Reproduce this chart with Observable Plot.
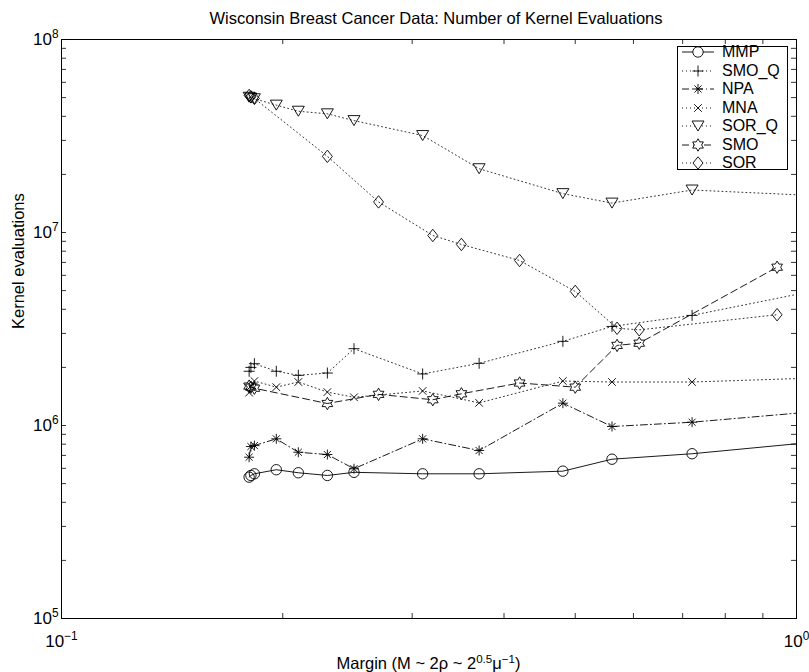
<!DOCTYPE html>
<html>
<head>
<meta charset="utf-8">
<script src="https://cdn.jsdelivr.net/npm/d3@7"></script>
<script src="https://cdn.jsdelivr.net/npm/@observablehq/plot@0.6"></script>
<style>
  body { margin: 0; background: #fff; }
  #wrap { position: relative; width: 809px; height: 672px; overflow: hidden; background: #fff;
          font-family: "Liberation Sans", Arial, Helvetica, sans-serif; color: #000; }
  #title { height: 26px; box-sizing: border-box; padding-top: 9px; line-height: 18px;
           font-size: 16.5px; margin-left: 63px; width: 746px; text-align: center; white-space: nowrap; }
  #xlabel { height: 18px; line-height: 18px; font-size: 16.5px; margin-left: 61px; width: 735px;
            text-align: center; white-space: nowrap; }
  #xlabel sup { font-size: 0.7em; line-height: 0; vertical-align: 0.55em; }
  #legend { position: absolute; left: 677px; top: 46px; width: 111px; height: 124px; box-sizing: border-box;
            border: 1px solid #000; background: #fff; }
  .lrow { position: absolute; left: 0; height: 18px; width: 109px; }
  .lrow svg { position: absolute; left: 1px; top: 0; }
  .lrow span { position: absolute; left: 44px; top: 0; line-height: 18px; font-size: 16px; white-space: nowrap; }
</style>
</head>
<body>
<div id="wrap">
  <div id="title">Wisconsin Breast Cancer Data: Number of Kernel Evaluations</div>
  <div id="chart"></div>
  <div id="xlabel">Margin (M ~ 2ρ ~ 2<sup>0.5</sup>μ<sup>−1</sup>)</div>
  <div id="legend"></div>
</div>
<script>
// ---------------- data ----------------
const seriesNames = ["MMP", "SMO_Q", "NPA", "MNA", "SOR_Q", "SMO", "SOR"];

// margin values shared by MMP, SMO_Q, NPA, MNA, SOR_Q (last one lies beyond the right edge)
const marginA = [0.180, 0.181, 0.183, 0.196, 0.210, 0.230, 0.250, 0.310, 0.370, 0.481, 0.561, 0.721, 1.2];
// margin values shared by SMO and SOR
const marginB = [0.180, 0.181, 0.183, 0.230, 0.270, 0.320, 0.350, 0.420, 0.500, 0.570, 0.611, 0.941];

const mmp   = [5.40e5, 5.51e5, 5.62e5, 5.90e5, 5.69e5, 5.51e5, 5.72e5, 5.62e5, 5.62e5, 5.80e5, 6.69e5, 7.14e5, 8.59e5];
const smoQ  = [1.91e6, 2.00e6, 2.09e6, 1.91e6, 1.82e6, 1.87e6, 2.50e6, 1.85e6, 2.10e6, 2.73e6, 3.26e6, 3.72e6, 5.49e6];
const npa   = [6.85e5, 7.78e5, 7.87e5, 8.53e5, 7.27e5, 7.07e5, 5.97e5, 8.53e5, 7.42e5, 1.305e6, 9.88e5, 1.04e6, 1.23e6];
const mna   = [1.48e6, 1.60e6, 1.70e6, 1.58e6, 1.68e6, 1.49e6, 1.40e6, 1.51e6, 1.31e6, 1.70e6, 1.68e6, 1.68e6, 1.79e6];
const sorQ  = [5.02e7, 4.97e7, 4.93e7, 4.57e7, 4.25e7, 4.12e7, 3.80e7, 3.18e7, 2.14e7, 1.59e7, 1.42e7, 1.66e7, 1.52e7];
const smo   = [1.60e6, 1.58e6, 1.56e6, 1.30e6, 1.45e6, 1.36e6, 1.46e6, 1.66e6, 1.58e6, 2.60e6, 2.67e6, 6.61e6];
const sor   = [5.13e7, 5.05e7, 4.95e7, 2.48e7, 1.44e7, 9.65e6, 8.67e6, 7.16e6, 4.95e6, 3.19e6, 3.13e6, 3.75e6];

// axis ticks
const xMajor = [0.1, 1];
const xMinor = [0.2, 0.3, 0.4, 0.5, 0.6, 0.7, 0.8, 0.9];
const yMajor = [1e5, 1e6, 1e7, 1e8];
const yMinor = [2e5, 3e5, 4e5, 5e5, 6e5, 7e5, 8e5, 9e5,
                2e6, 3e6, 4e6, 5e6, 6e6, 7e6, 8e6, 9e6,
                2e7, 3e7, 4e7, 5e7, 6e7, 7e7, 8e7, 9e7];

// ---------------- marker shapes (MATLAB-like, open) ----------------
const SYM = {
  circle:   {draw(c) { const r = 5.2; c.moveTo(r, 0); c.arc(0, 0, r, 0, 2 * Math.PI); }},
  plus:     {draw(c) { const r = 5.5; c.moveTo(-r, 0); c.lineTo(r, 0); c.moveTo(0, -r); c.lineTo(0, r); }},
  asterisk: {draw(c) { const r = 5, d = r * 0.7071;
              c.moveTo(-r, 0); c.lineTo(r, 0); c.moveTo(0, -r); c.lineTo(0, r);
              c.moveTo(-d, -d); c.lineTo(d, d); c.moveTo(-d, d); c.lineTo(d, -d); }},
  times:    {draw(c) { const d = 3.8; c.moveTo(-d, -d); c.lineTo(d, d); c.moveTo(-d, d); c.lineTo(d, -d); }},
  triDown:  {draw(c) { const w = 6, h = 5; c.moveTo(-w, -h); c.lineTo(w, -h); c.lineTo(0, h); c.closePath(); }},
  hexagram: {draw(c) { const R = 6.2, r = R / Math.sqrt(3);
              for (let i = 0; i < 12; i++) {
                const a = i * Math.PI / 6 - Math.PI / 2, rr = i % 2 ? r : R;
                const x = rr * Math.cos(a), y = rr * Math.sin(a);
                if (i) c.lineTo(x, y); else c.moveTo(x, y);
              }
              c.closePath(); }},
  diamond:  {draw(c) { const w = 5, h = 6.2; c.moveTo(0, -h); c.lineTo(w, 0); c.lineTo(0, h); c.lineTo(-w, 0); c.closePath(); }}
};

const DOT = "1 3", DASH = "7 4", DASHDOT = "7 3 1 3";
const styles = {
  MMP:   {sym: SYM.circle,   dash: null,    xs: marginA, ys: mmp},
  SMO_Q: {sym: SYM.plus,     dash: DOT,     xs: marginA, ys: smoQ},
  NPA:   {sym: SYM.asterisk, dash: DASHDOT, xs: marginA, ys: npa},
  MNA:   {sym: SYM.times,    dash: DOT,     xs: marginA, ys: mna},
  SOR_Q: {sym: SYM.triDown,  dash: DOT,     xs: marginA, ys: sorQ},
  SMO:   {sym: SYM.hexagram, dash: DASH,    xs: marginB, ys: smo},
  SOR:   {sym: SYM.diamond,  dash: DOT,     xs: marginB, ys: sor}
};

const W = 809, H = 628;
const mT = 13, mB = 36, mL = 61, mR = 13;
const fH = H - mT - mB, fW = W - mL - mR;
const TL = 5; // tick length (inward)

const marks = [];
for (const name of seriesNames) {
  const s = styles[name];
  const rows = s.xs.map((x, i) => ({x, y: s.ys[i]}));
  marks.push(Plot.line(rows, {x: "x", y: "y", stroke: "#000",
    strokeWidth: s.dash === DOT ? 0.8 : 0.9, strokeDasharray: s.dash ?? undefined, clip: true}));
  marks.push(Plot.dot(rows, {x: "x", y: "y", symbol: s.sym, r: 5, stroke: "#000", fill: "none",
    strokeWidth: 0.9, clip: true}));
}

const tickFmt = d => "10" + String(Math.round(Math.log10(d))).replace("-", "−");

const plot = Plot.plot({
  width: W, height: H,
  marginTop: mT, marginBottom: mB, marginLeft: mL, marginRight: mR,
  style: {fontFamily: '"Liberation Sans", Arial, Helvetica, sans-serif', fontSize: "17px", color: "#000", background: "#fff", overflow: "visible"},
  x: {type: "log", domain: [0.1, 1]},
  y: {type: "log", domain: [1e5, 1e8]},
  marks: [
    // inward tick marks on all four sides
    Plot.tickX(xMajor.concat(xMinor), {x: d => d, stroke: "#000", strokeWidth: 0.8, insetTop: fH - TL}),
    Plot.tickX(xMajor.concat(xMinor), {x: d => d, stroke: "#000", strokeWidth: 0.8, insetBottom: fH - TL}),
    Plot.tickY(yMajor.concat(yMinor), {y: d => d, stroke: "#000", strokeWidth: 0.8, insetRight: fW - TL}),
    Plot.tickY(yMajor.concat(yMinor), {y: d => d, stroke: "#000", strokeWidth: 0.8, insetLeft: fW - TL}),
    Plot.axisX(xMajor, {tickSize: 0, tickPadding: 16, tickFormat: tickFmt, label: null}),
    Plot.axisY(yMajor, {tickSize: 0, tickPadding: 3, tickFormat: tickFmt, label: null}),
    Plot.text(["Kernel evaluations"], {text: d => d, frameAnchor: "left", rotate: -90, dx: -43, fontSize: 16.5}),
    ...marks,
    Plot.frame({stroke: "#000", strokeWidth: 1})
  ]
});

// superscript exponents in tick labels
d3.select(plot).selectAll('g[aria-label="x-axis tick label"] text, g[aria-label="y-axis tick label"] text')
  .each(function () {
    const t = this.textContent;
    const s = d3.select(this);
    s.text(t.slice(0, 2));
    s.append("tspan").attr("dy", "-0.55em").attr("font-size", "0.7em").text(t.slice(2));
  });

document.getElementById("chart").appendChild(plot);

// ---------------- legend ----------------
const legend = d3.select("#legend");
seriesNames.forEach((name, i) => {
  const s = styles[name];
  const row = legend.append("div").attr("class", "lrow").style("top", (-4 + i * 18.5) + "px");
  const svg = row.append("svg").attr("width", 40).attr("height", 18);
  svg.append("line").attr("x1", 3).attr("x2", 35).attr("y1", 9).attr("y2", 9)
    .attr("stroke", "#000").attr("stroke-width", 0.9)
    .attr("stroke-dasharray", s.dash ?? null);
  const p = d3.path();
  s.sym.draw(p, 0);
  svg.append("path").attr("d", p.toString()).attr("transform", "translate(19,9)")
    .attr("fill", "#fff").attr("stroke", "#000").attr("stroke-width", 0.9);
  row.append("span").text(name);
});
</script>
</body>
</html>
